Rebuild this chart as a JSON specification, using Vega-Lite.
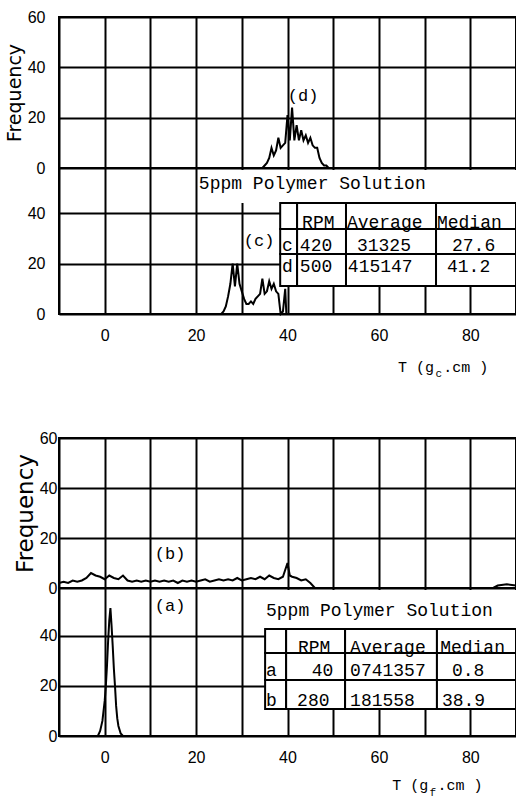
{
  "$schema": "https://vega.github.io/schema/vega-lite/v6.json",
  "padding": {"left": 4, "top": 8, "right": 0, "bottom": 0},
  "background": "white",
  "config": {
    "view": {"stroke": "black", "strokeWidth": 2},
    "axis": {"domain": false, "ticks": false, "grid": true, "gridColor": "black", "gridWidth": 2, "gridOpacity": 1, "labelFont": "Liberation Sans", "labelFontSize": 16, "labelColor": "black", "titleFont": "DejaVu Sans", "titleFontWeight": "normal", "titleColor": "black"}
  },
  "datasets": {
    "d": [{"T": -10, "f": 0}, {"T": 34.5, "f": 0}, {"T": 35, "f": 1}, {"T": 35.5, "f": 2}, {"T": 36, "f": 4}, {"T": 36.5, "f": 8}, {"T": 37, "f": 5}, {"T": 37.5, "f": 7}, {"T": 38, "f": 12}, {"T": 38.5, "f": 8}, {"T": 39, "f": 9}, {"T": 39.5, "f": 10}, {"T": 40, "f": 21}, {"T": 40.5, "f": 11}, {"T": 41, "f": 24}, {"T": 41.5, "f": 11}, {"T": 42, "f": 17}, {"T": 42.5, "f": 11}, {"T": 43, "f": 15}, {"T": 43.5, "f": 11}, {"T": 44, "f": 13}, {"T": 44.5, "f": 10}, {"T": 45, "f": 12}, {"T": 45.5, "f": 9}, {"T": 46, "f": 8}, {"T": 46.5, "f": 8}, {"T": 47, "f": 4}, {"T": 47.5, "f": 2}, {"T": 48, "f": 1}, {"T": 48.5, "f": 1}, {"T": 49, "f": 0}, {"T": 90, "f": 0}],
    "c": [{"T": -10, "f": 0}, {"T": 25.5, "f": 0}, {"T": 26, "f": 1}, {"T": 26.5, "f": 3}, {"T": 27, "f": 7}, {"T": 27.5, "f": 12}, {"T": 28, "f": 20}, {"T": 28.5, "f": 11}, {"T": 29, "f": 20}, {"T": 29.5, "f": 12}, {"T": 30, "f": 9}, {"T": 30.5, "f": 6}, {"T": 31, "f": 4}, {"T": 31.5, "f": 4}, {"T": 32, "f": 5}, {"T": 32.5, "f": 4}, {"T": 33, "f": 6}, {"T": 33.5, "f": 7}, {"T": 34, "f": 8}, {"T": 34.5, "f": 14}, {"T": 35, "f": 8}, {"T": 35.5, "f": 9}, {"T": 36, "f": 13}, {"T": 36.5, "f": 10}, {"T": 37, "f": 12}, {"T": 37.5, "f": 9}, {"T": 38, "f": 8}, {"T": 38.5, "f": 0}, {"T": 39, "f": 1}, {"T": 39.5, "f": 10}, {"T": 39.75, "f": 0}, {"T": 90, "f": 0}],
    "b": [{"T": -10, "f": 2}, {"T": -9, "f": 2.5}, {"T": -8, "f": 2}, {"T": -7, "f": 3}, {"T": -6, "f": 2.5}, {"T": -5, "f": 3}, {"T": -4, "f": 4}, {"T": -3, "f": 6}, {"T": -2, "f": 5}, {"T": -1, "f": 4.5}, {"T": 0, "f": 3.5}, {"T": 1, "f": 5}, {"T": 2, "f": 4}, {"T": 3, "f": 3.5}, {"T": 4, "f": 5}, {"T": 5, "f": 3}, {"T": 6, "f": 2.5}, {"T": 7, "f": 3}, {"T": 8, "f": 2.5}, {"T": 9, "f": 3}, {"T": 10, "f": 2.5}, {"T": 11, "f": 3}, {"T": 12, "f": 2.5}, {"T": 13, "f": 3}, {"T": 14, "f": 2.5}, {"T": 15, "f": 3}, {"T": 16, "f": 2}, {"T": 17, "f": 3}, {"T": 18, "f": 2.5}, {"T": 19, "f": 3}, {"T": 20, "f": 2.5}, {"T": 21, "f": 3}, {"T": 22, "f": 3.5}, {"T": 23, "f": 2.5}, {"T": 24, "f": 3}, {"T": 25, "f": 3.5}, {"T": 26, "f": 3}, {"T": 27, "f": 3.5}, {"T": 28, "f": 3}, {"T": 29, "f": 4}, {"T": 30, "f": 3}, {"T": 31, "f": 3.5}, {"T": 32, "f": 4}, {"T": 33, "f": 3.5}, {"T": 34, "f": 4.5}, {"T": 35, "f": 3.5}, {"T": 36, "f": 5}, {"T": 37, "f": 4}, {"T": 38, "f": 3.5}, {"T": 39, "f": 4.5}, {"T": 40, "f": 10}, {"T": 40.5, "f": 5}, {"T": 41, "f": 4.5}, {"T": 42, "f": 4}, {"T": 43, "f": 3}, {"T": 44, "f": 3.5}, {"T": 45, "f": 2}, {"T": 46, "f": 0}, {"T": 85, "f": 0}, {"T": 86, "f": 1}, {"T": 88, "f": 1.5}, {"T": 90, "f": 1}],
    "a": [{"T": -10, "f": 0}, {"T": -1.5, "f": 0}, {"T": -1, "f": 2}, {"T": -0.5, "f": 6}, {"T": 0, "f": 14}, {"T": 0.25, "f": 20}, {"T": 0.5, "f": 28}, {"T": 0.75, "f": 38}, {"T": 1, "f": 46}, {"T": 1.25, "f": 51}, {"T": 1.5, "f": 44}, {"T": 1.75, "f": 36}, {"T": 2, "f": 27}, {"T": 2.25, "f": 20}, {"T": 2.5, "f": 12}, {"T": 2.75, "f": 7}, {"T": 3, "f": 4}, {"T": 3.5, "f": 1}, {"T": 4, "f": 0}, {"T": 90, "f": 0}],
    "cBox": [{"T": 20.6, "T2": 90, "f": 57.2, "f2": 44.1}],
    "cCells": [
      {"T": 38.4, "T2": 42.1, "f": 44.1, "f2": 33.8}, {"T": 42.1, "T2": 52.8, "f": 44.1, "f2": 33.8}, {"T": 52.8, "T2": 72.5, "f": 44.1, "f2": 33.8}, {"T": 72.5, "T2": 90, "f": 44.1, "f2": 33.8},
      {"T": 38.4, "T2": 42.1, "f": 33.8, "f2": 23.8}, {"T": 42.1, "T2": 52.8, "f": 33.8, "f2": 23.8}, {"T": 52.8, "T2": 72.5, "f": 33.8, "f2": 23.8}, {"T": 72.5, "T2": 90, "f": 33.8, "f2": 23.8},
      {"T": 38.4, "T2": 42.1, "f": 23.8, "f2": 11.1}, {"T": 42.1, "T2": 52.8, "f": 23.8, "f2": 11.1}, {"T": 52.8, "T2": 72.5, "f": 23.8, "f2": 11.1}, {"T": 72.5, "T2": 90, "f": 23.8, "f2": 11.1}
    ],
    "cText": [
      {"T": 20.6, "f": 51.6, "label": "5ppm Polymer Solution"},
      {"T": 43.2, "f": 36.2, "label": "RPM"}, {"T": 53.0, "f": 36.2, "label": "Average"}, {"T": 72.7, "f": 36.2, "label": "Median"},
      {"T": 38.8, "f": 27.0, "label": "c"}, {"T": 42.7, "f": 27.0, "label": "420"}, {"T": 55.2, "f": 27.0, "label": "31325"}, {"T": 76.0, "f": 27.0, "label": "27.6"},
      {"T": 38.8, "f": 18.7, "label": "d"}, {"T": 42.7, "f": 18.7, "label": "500"}, {"T": 53.2, "f": 18.7, "label": "415147"}, {"T": 74.9, "f": 18.7, "label": "41.2"}
    ],
    "aBox": [{"T": 35.1, "T2": 90, "f": 58.2, "f2": 42.7}],
    "aCells": [
      {"T": 35.1, "T2": 39.7, "f": 42.7, "f2": 33.1}, {"T": 39.7, "T2": 52.6, "f": 42.7, "f2": 33.1}, {"T": 52.6, "T2": 72.7, "f": 42.7, "f2": 33.1}, {"T": 72.7, "T2": 90, "f": 42.7, "f2": 33.1},
      {"T": 35.1, "T2": 39.7, "f": 33.1, "f2": 22.3}, {"T": 39.7, "T2": 52.6, "f": 33.1, "f2": 22.3}, {"T": 52.6, "T2": 72.7, "f": 33.1, "f2": 22.3}, {"T": 72.7, "T2": 90, "f": 33.1, "f2": 22.3},
      {"T": 35.1, "T2": 39.7, "f": 22.3, "f2": 10.8}, {"T": 39.7, "T2": 52.6, "f": 22.3, "f2": 10.8}, {"T": 52.6, "T2": 72.7, "f": 22.3, "f2": 10.8}, {"T": 72.7, "T2": 90, "f": 22.3, "f2": 10.8}
    ],
    "aText": [
      {"T": 35.3, "f": 49.8, "label": "5ppm Polymer Solution"},
      {"T": 42.3, "f": 35.1, "label": "RPM"}, {"T": 53.7, "f": 35.1, "label": "Average"}, {"T": 73.4, "f": 35.1, "label": "Median"},
      {"T": 35.3, "f": 25.9, "label": "a"}, {"T": 45.3, "f": 25.9, "label": "40"}, {"T": 53.7, "f": 25.9, "label": "0741357"}, {"T": 76.0, "f": 25.9, "label": "0.8"},
      {"T": 35.3, "f": 14.0, "label": "b"}, {"T": 42.1, "f": 14.0, "label": "280"}, {"T": 53.7, "f": 14.0, "label": "181558"}, {"T": 73.8, "f": 14.0, "label": "38.9"}
    ],
    "dLabel": [{"T": 43.4, "f": 28.6, "label": "(d)"}],
    "cLabel": [{"T": 33.8, "f": 29.0, "label": "(c)"}],
    "bLabel": [{"T": 14.3, "f": 13.6, "label": "(b)"}],
    "aLabel": [{"T": 14.3, "f": 51.8, "label": "(a)"}],
    "cTitle": [{"T": 64.2, "f": -21.1, "label": "T (g"}, {"T": 74.1, "f": -21.1, "label": ".cm )"}],
    "cSub": [{"T": 73.1, "f": -24.0, "label": "c"}],
    "aTitle": [{"T": 62.9, "f": -19.4, "label": "T (g"}, {"T": 72.8, "f": -19.4, "label": ".cm )"}],
    "aSub": [{"T": 71.8, "f": -22.6, "label": "f"}]
  },
  "spacing": 0,
  "bounds": "flush",
  "vconcat": [
    {
      "width": 457, "height": 151,
      "encoding": {
        "x": {"field": "T", "type": "quantitative", "scale": {"domain": [-10, 90], "nice": false, "zero": false}, "axis": {"values": [-10, 0, 10, 20, 30, 40, 50, 60, 70, 80, 90], "labels": false, "title": null}},
        "y": {"field": "f", "type": "quantitative", "scale": {"domain": [0, 60], "nice": false}, "axis": {"values": [0, 20, 40, 60], "labelPadding": 14, "title": "Frequency", "titleFontSize": 19, "titlePadding": 3}}
      },
      "layer": [
        {"data": {"name": "d"}, "mark": {"type": "line", "color": "black", "strokeWidth": 2}, "encoding": {}},
        {"data": {"name": "dLabel"}, "mark": {"type": "text", "font": "Liberation Mono", "fontSize": 17, "color": "black", "align": "center", "baseline": "middle"}, "encoding": {"text": {"field": "label"}}}
      ]
    },
    {
      "width": 457, "height": 146,
      "encoding": {
        "x": {"field": "T", "type": "quantitative", "scale": {"domain": [-10, 90], "nice": false, "zero": false}, "axis": {"values": [-10, 0, 10, 20, 30, 40, 50, 60, 70, 80, 90], "labelExpr": "datum.value % 20 == 0 ? datum.label : ''", "labelPadding": 13, "title": null}},
        "y": {"field": "f", "type": "quantitative", "scale": {"domain": [0, 58], "nice": false}, "axis": {"values": [0, 20, 40], "labelPadding": 14, "title": null}}
      },
      "layer": [
        {"data": {"name": "c"}, "mark": {"type": "line", "color": "black", "strokeWidth": 2}, "encoding": {}},
        {"data": {"name": "cBox"}, "mark": {"type": "rect", "fill": "white", "strokeWidth": 0}, "encoding": {"x2": {"field": "T2"}, "y2": {"field": "f2"}}},
        {"data": {"name": "cCells"}, "mark": {"type": "rect", "fill": "white", "stroke": "black", "strokeWidth": 2}, "encoding": {"x2": {"field": "T2"}, "y2": {"field": "f2"}}},
        {"data": {"name": "cText"}, "mark": {"type": "text", "font": "Liberation Mono", "fontSize": 18, "color": "black", "align": "left", "baseline": "middle"}, "encoding": {"text": {"field": "label"}}},
        {"data": {"name": "cLabel"}, "mark": {"type": "text", "font": "Liberation Mono", "fontSize": 17, "color": "black", "align": "center", "baseline": "middle"}, "encoding": {"text": {"field": "label"}}},
        {"data": {"name": "cTitle"}, "mark": {"type": "text", "font": "Liberation Mono", "fontSize": 15, "color": "black", "align": "left", "baseline": "middle"}, "encoding": {"text": {"field": "label"}}},
        {"data": {"name": "cSub"}, "mark": {"type": "text", "font": "Liberation Mono", "fontSize": 11, "color": "black", "align": "center", "baseline": "middle"}, "encoding": {"text": {"field": "label"}}}
      ]
    },
    {
      "width": 457, "height": 124,
      "data": {"values": []},
      "mark": "point",
      "view": {"stroke": null}
    },
    {
      "width": 457, "height": 150,
      "encoding": {
        "x": {"field": "T", "type": "quantitative", "scale": {"domain": [-10, 90], "nice": false, "zero": false}, "axis": {"values": [-10, 0, 10, 20, 30, 40, 50, 60, 70, 80, 90], "labels": false, "title": null}},
        "y": {"field": "f", "type": "quantitative", "scale": {"domain": [0, 60], "nice": false}, "axis": {"values": [0, 20, 40, 60], "labelPadding": 2, "title": "Frequency", "titleFontSize": 23, "titlePadding": 2}}
      },
      "layer": [
        {"data": {"name": "b"}, "mark": {"type": "line", "color": "black", "strokeWidth": 2}, "encoding": {}},
        {"data": {"name": "bLabel"}, "mark": {"type": "text", "font": "Liberation Mono", "fontSize": 17, "color": "black", "align": "center", "baseline": "middle"}, "encoding": {"text": {"field": "label"}}}
      ]
    },
    {
      "width": 457, "height": 148,
      "encoding": {
        "x": {"field": "T", "type": "quantitative", "scale": {"domain": [-10, 90], "nice": false, "zero": false}, "axis": {"values": [-10, 0, 10, 20, 30, 40, 50, 60, 70, 80, 90], "labelExpr": "datum.value % 20 == 0 ? datum.label : ''", "labelPadding": 13, "title": null}},
        "y": {"field": "f", "type": "quantitative", "scale": {"domain": [0, 59], "nice": false}, "axis": {"values": [0, 20, 40], "labelPadding": 2, "title": null}}
      },
      "layer": [
        {"data": {"name": "a"}, "mark": {"type": "line", "color": "black", "strokeWidth": 2}, "encoding": {}},
        {"data": {"name": "aBox"}, "mark": {"type": "rect", "fill": "white", "strokeWidth": 0}, "encoding": {"x2": {"field": "T2"}, "y2": {"field": "f2"}}},
        {"data": {"name": "aCells"}, "mark": {"type": "rect", "fill": "white", "stroke": "black", "strokeWidth": 2}, "encoding": {"x2": {"field": "T2"}, "y2": {"field": "f2"}}},
        {"data": {"name": "aText"}, "mark": {"type": "text", "font": "Liberation Mono", "fontSize": 18, "color": "black", "align": "left", "baseline": "middle"}, "encoding": {"text": {"field": "label"}}},
        {"data": {"name": "aLabel"}, "mark": {"type": "text", "font": "Liberation Mono", "fontSize": 17, "color": "black", "align": "center", "baseline": "middle"}, "encoding": {"text": {"field": "label"}}},
        {"data": {"name": "aTitle"}, "mark": {"type": "text", "font": "Liberation Mono", "fontSize": 15, "color": "black", "align": "left", "baseline": "middle"}, "encoding": {"text": {"field": "label"}}},
        {"data": {"name": "aSub"}, "mark": {"type": "text", "font": "Liberation Mono", "fontSize": 11, "color": "black", "align": "center", "baseline": "middle"}, "encoding": {"text": {"field": "label"}}}
      ]
    }
  ]
}
